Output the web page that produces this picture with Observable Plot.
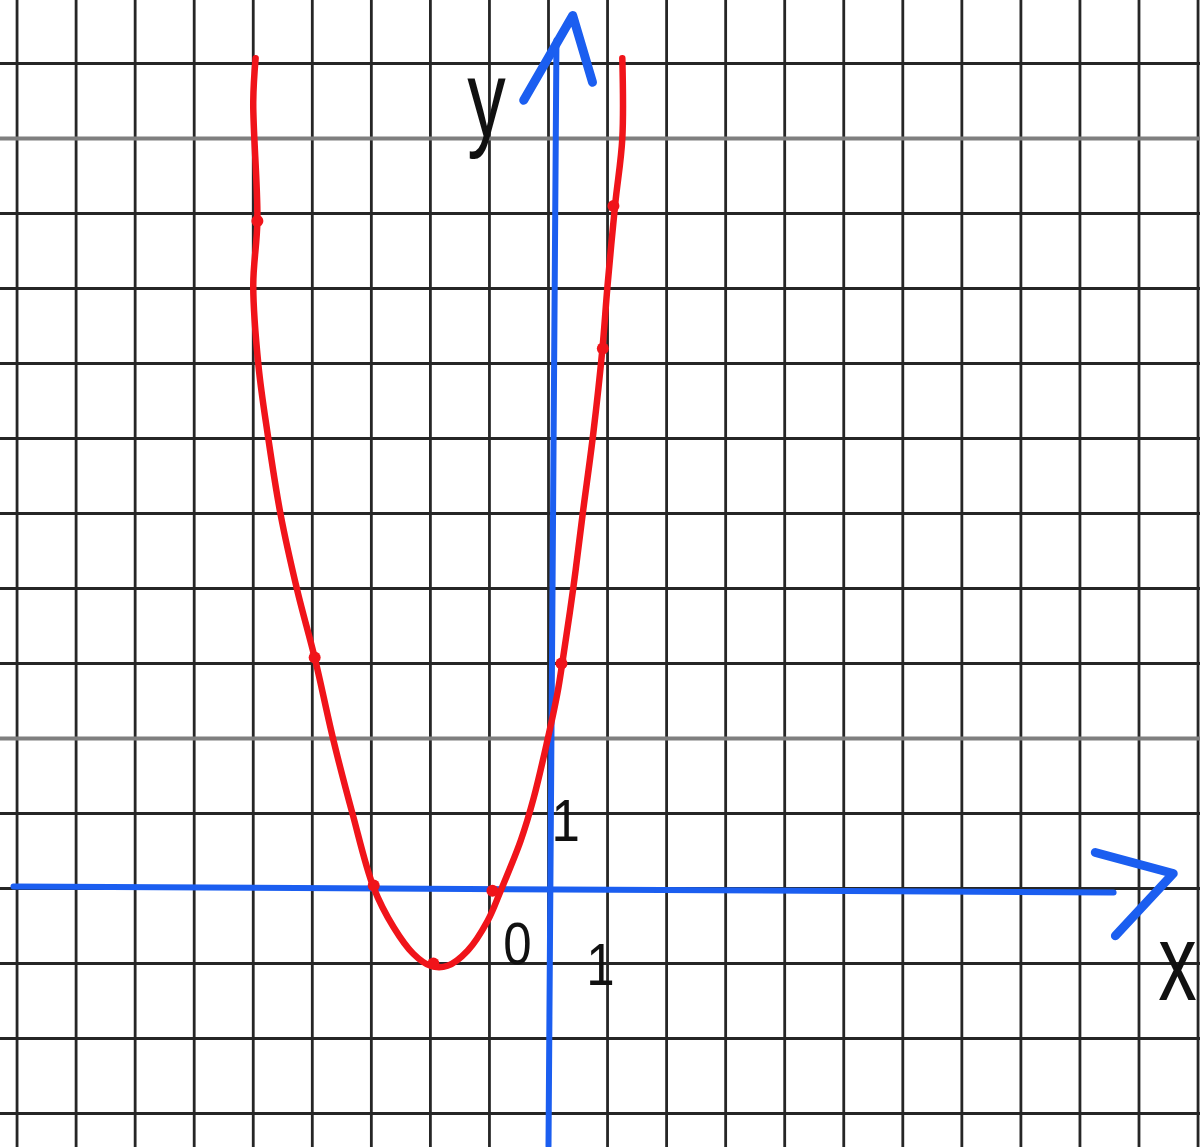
<!DOCTYPE html>
<html>
<head>
<meta charset="utf-8">
<script src="https://cdn.jsdelivr.net/npm/d3@7"></script>
<script src="https://cdn.jsdelivr.net/npm/@observablehq/plot@0.6"></script>
<style>
  html, body { margin: 0; padding: 0; background: #fff; overflow: hidden; }
  #chart svg { display: block; }
</style>
</head>
<body>
<div id="chart"></div>
<script>
// Grid lines (one per unit)
const gridX = [-9, -8, -7, -6, -5, -4, -3, -2, -1, 0, 1, 2, 3, 4, 5, 6, 7, 8, 9, 10, 11];
const gridY = [-3, -2, -1, 0, 1, 2, 3, 4, 5, 6, 7, 8, 9, 10, 11];
const fadedGridY = [2, 10];

// Hand-drawn red parabola
const curveX = [-4.96, -5.0, -4.93, -5.0, -4.91, -4.76, -4.54, -4.25, -3.96, -3.64, -3.32, -2.96, -2.62, -2.29, -2.0, -1.71, -1.37, -1.03, -0.81, -0.47, -0.25, -0.02, 0.15, 0.24, 0.42, 0.58, 0.76, 0.91, 1.0, 1.13, 1.25, 1.25];
const curveY = [11.07, 10.49, 8.91, 8.04, 6.96, 6.08, 5.0, 3.96, 3.08, 1.97, 1.0, 0.01, -0.52, -0.87, -1.03, -1.03, -0.83, -0.43, -0.03, 0.64, 1.21, 1.97, 2.6, 3.04, 4.01, 5.0, 6.08, 7.17, 8.04, 9.13, 10.0, 11.07];

// Little blobs where the table points were marked
const markX = [-4.93, -3.96, -2.96, -1.95, -0.95, 0.22, 0.92, 1.1];
const markY = [8.9, 3.08, 0.04, -1.0, -0.03, 3.0, 7.2, 9.1];

// Blue hand-drawn axes (shaft + arrow head)
const xAxisX = [-9.06, 9.57];
const xAxisY = [0.027, -0.053];
const xArrowX = [9.26, 10.58, 9.6];
const xArrowY = [0.48, 0.2, -0.63];
const yAxisX = [0.0, 0.135];
const yAxisY = [-3.43, 11.31];
const yArrowX = [-0.42, 0.41, 0.745];
const yArrowY = [10.51, 11.64, 10.75];

// Labels
const letterText = ["y", "x"];
const letterX = [-1.05, 10.65];
const letterY = [10.04, -1.49];
const digitText = ["1", "0", "1"];
const digitX = [0.29, -0.525, 0.88];
const digitY = [0.64, -1.0, -1.29];

const curve = curveX.map((x, i) => ({x, y: curveY[i]}));
const marks = markX.map((x, i) => ({x, y: markY[i]}));
const xAxisPts = xAxisX.map((x, i) => ({x, y: xAxisY[i]}));
const xArrowPts = xArrowX.map((x, i) => ({x, y: xArrowY[i]}));
const yAxisPts = yAxisX.map((x, i) => ({x, y: yAxisY[i]}));
const yArrowPts = yArrowX.map((x, i) => ({x, y: yArrowY[i]}));
const letters = letterText.map((t, i) => ({t, x: letterX[i], y: letterY[i]}));
const digits = digitText.map((t, i) => ({t, x: digitX[i], y: digitY[i]}));

const blue = "#1b5ef0";
const red = "#f0141a";
const gridColor = "#262626";

const plot = Plot.plot({
  width: 1200,
  height: 1147,
  margin: 0,
  style: {background: "#fff"},
  x: {domain: [-548 / 59.05, 652 / 59.05], axis: null},
  y: {domain: [-259 / 75, 888 / 75], axis: null},
  marks: [
    Plot.ruleX(gridX, {stroke: gridColor, strokeWidth: 2.8}),
    Plot.ruleY(gridY.filter(d => !fadedGridY.includes(d)), {stroke: gridColor, strokeWidth: 2.8}),
    Plot.ruleY(fadedGridY, {stroke: "#7f7f7f", strokeWidth: 4}),
    Plot.line(xAxisPts, {x: "x", y: "y", stroke: blue, strokeWidth: 6, strokeLinecap: "round"}),
    Plot.line(xArrowPts, {x: "x", y: "y", stroke: blue, strokeWidth: 9, strokeLinecap: "round", strokeLinejoin: "round"}),
    Plot.line(yAxisPts, {x: "x", y: "y", stroke: blue, strokeWidth: 6, strokeLinecap: "round"}),
    Plot.line(yArrowPts, {x: "x", y: "y", stroke: blue, strokeWidth: 9, strokeLinecap: "round", strokeLinejoin: "round"}),
    Plot.line(curve, {x: "x", y: "y", stroke: red, strokeWidth: 6.5, curve: "catmull-rom", strokeLinecap: "round", strokeLinejoin: "round"}),
    Plot.dot(marks, {x: "x", y: "y", r: 6, fill: red, stroke: "none"}),
    Plot.text(letters, {x: "x", y: "y", text: "t", fontSize: 110, fill: "#111", textAnchor: "middle", lineAnchor: "bottom", fontFamily: "Liberation Sans, Arial, sans-serif", className: "letters"}),
    Plot.text(digits, {x: "x", y: "y", text: "t", fontSize: 60, fill: "#111", textAnchor: "middle", lineAnchor: "bottom", fontFamily: "Liberation Sans, Arial, sans-serif", className: "digits"})
  ]
});

document.getElementById("chart").appendChild(plot);

// narrow the hand-lettered glyphs like in the picture
d3.select(plot).selectAll(".letters text").attr("transform", function () {
  return (this.getAttribute("transform") || "") + " scale(0.7,1)";
});
d3.select(plot).selectAll(".digits text").attr("transform", function () {
  return (this.getAttribute("transform") || "") + " scale(0.85,1)";
});
</script>
</body>
</html>
